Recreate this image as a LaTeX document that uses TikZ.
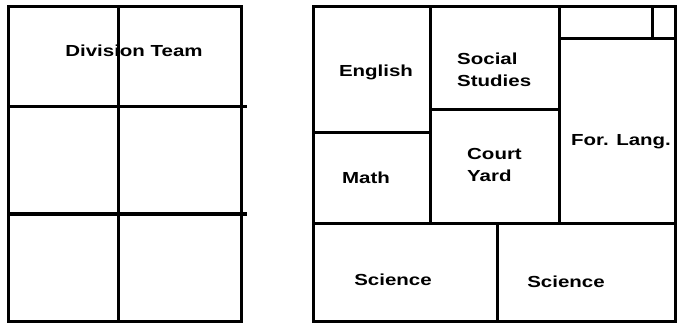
\documentclass[tikz,border=0pt]{standalone}
\usepackage{fontspec}
\newfontfamily\pix[FakeStretch=1.28]{Liberation Sans}
\begin{document}
\begin{tikzpicture}[x=1pt,y=-1pt,
  wall/.style={line width=3pt,line cap=rect},
  lbl/.style={font=\pix\bfseries\fontsize{16}{22}\selectfont,inner sep=0pt}]
\useasboundingbox (0,0) rectangle (677,323);
% left block
\draw[wall] (8,7) rectangle (241,321);
\draw[wall] (118,7) -- (118,321);
\draw[wall] (8,107) -- (245,107);
\draw[wall] (8,214) -- (245,214);
\node[lbl] (div) at (134,51) {Division Team};
% right block
\draw[wall] (313,7) rectangle (675,321);
\draw[wall] (430,7) -- (430,223);
\draw[wall] (559,7) -- (559,223);
\draw[wall] (652,7) -- (652,39);
\draw[wall] (559,39) -- (675,39);
\draw[wall] (313,133) -- (430,133);
\draw[wall] (430,110) -- (559,110);
\draw[wall] (313,223) -- (675,223);
\draw[wall] (497,223) -- (497,321);
\node[lbl] (eng) at (376,72) {English};
\node[lbl,align=left,anchor=west] (soc) at (457,70) {Social\\Studies};
\node[lbl] (math) at (366,178) {Math};
\node[lbl,align=left,anchor=west] (court) at (467,165) {Court\\Yard};
\node[lbl] (for) at (621,142) {For. Lang.};
\node[lbl] (sci1) at (393,280) {Science};
\node[lbl] (sci2) at (566,282) {Science};
\end{tikzpicture}
\end{document}
